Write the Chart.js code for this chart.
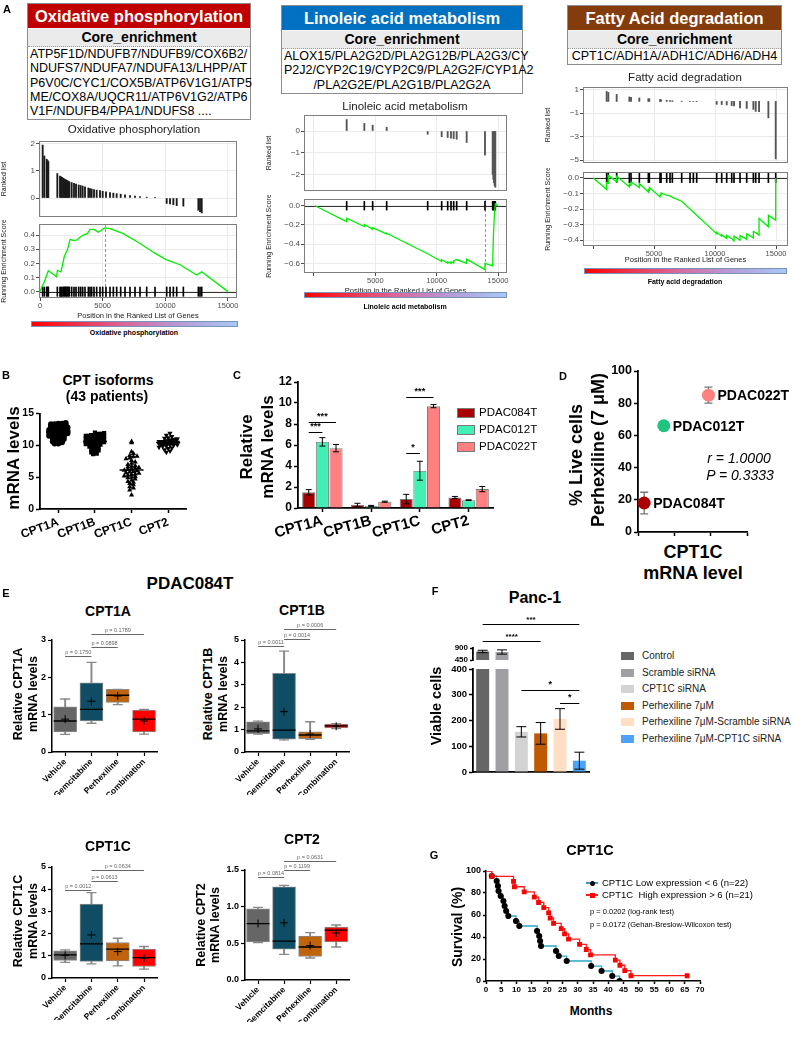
<!DOCTYPE html>
<html lang="en">
<head>
<meta charset="UTF-8">
<meta name="viewport" content="width=device-width, initial-scale=1.0">
<title>CPT1C figure</title>
<style>
  body { margin: 0; background: #fff; }
  #fig { position: relative; width: 794px; height: 1041px; overflow: hidden;
         font-family: 'Liberation Sans', Arial, sans-serif; color: #000; }
  #fig canvas { position: absolute; }
  .t { position: absolute; white-space: nowrap; line-height: 1; }
  .gbox { position: absolute; border: 1px solid #8c8c8c; background: #fff; box-sizing: border-box; }
  .gbox .hd { color: #fff; font-weight: bold; text-align: center; font-size: 16.5px; height: 24px; line-height: 25px; }
  .gbox .core { background: #ebebeb; font-weight: bold; text-align: center; font-size: 14px; height: 17px; line-height: 17px;
                border-top: 1px dotted #fff; border-bottom: 1px dotted #9a9a9a; }
  .gbox .genes { font-size: 12.5px; line-height: 14.3px; padding: 0 2px 1px; }
  .cbar { position: absolute; height: 6px; box-sizing: border-box; border: 1px solid #7b93b8;
          background: linear-gradient(to right, #ff0000, #d9679a 45%, #b69ad6 72%, #a6c9f7); }
  .sw { position: absolute; box-sizing: border-box; }
</style>
</head>
<body>
<div id="fig"></div>
<script src="https://cdn.jsdelivr.net/npm/chart.js"></script>
<script>
// ---------- A: GSEA (gene rank positions / ranked metric / running ES) ----------
const oxHits = [213, 346, 532, 612, 665, 1383, 1596, 1676, 1756, 1862, 1942, 2022, 2102, 2181, 2261, 2341, 2527, 2713, 2873, 3086,
                3246, 3405, 3591, 3857, 3990, 4123, 4310, 4522, 4788, 5002, 5267, 5586, 5852, 6118, 6438, 6784, 7183, 7582, 7981, 8513,
                9178, 10109, 10375, 10641, 10907, 11439, 12637, 12769, 12903];
const oxRank = [1.95, 1.55, 1.43, 1.38, 1.34, 0.9, 0.81, 0.78, 0.76, 0.73, 0.7, 0.68, 0.66, 0.64, 0.62, 0.6, 0.57, 0.54, 0.51, 0.48,
                0.46, 0.44, 0.41, 0.37, 0.35, 0.33, 0.31, 0.29, 0.27, 0.25, 0.23, 0.2, 0.18, 0.16, 0.14, 0.12, 0.09, 0.07, 0.05, 0.03,
                0.01, -0.2, -0.22, -0.25, -0.28, -0.3, -0.45, -0.5, -0.55];
const oxEsPos = [0, 213, 346, 665, 1330, 1383, 1676, 1942, 2200, 2400, 2700, 2950, 3190, 3460, 3780, 3990, 4310, 4655, 5160, 5590,
                 6650, 7980, 9200, 10110, 11170, 12500, 12900, 15000];
const oxEsVal = [0, 0.045, 0.07, 0.148, 0.105, 0.15, 0.14, 0.25, 0.3, 0.37, 0.36, 0.365, 0.385, 0.4, 0.41, 0.44, 0.44, 0.42, 0.45, 0.445,
                 0.41, 0.34, 0.27, 0.224, 0.19, 0.118, 0.14, 0];

const linHits = [2662, 4102, 4781, 5922, 9264, 10405, 10894, 11166, 11383, 11627, 12442, 13936, 14561, 14616, 14670, 14724, 14779];
const linRank = [0.53, 0.35, 0.27, 0.17, -0.15, -0.26, -0.3, -0.33, -0.35, -0.38, -0.53, -1.12, -2.0, -2.23, -2.4, -2.53, -2.6];
const linEsPos = [81, 2662, 2662, 4102, 4102, 4781, 4781, 5922, 5922, 9264, 10405, 10405, 10894, 10894, 11166, 11166, 11383, 11383,
                  11627, 12442, 12442, 13936, 13936, 14561, 14616, 14700, 14779, 15000];
const linEsVal = [0, -0.166, -0.13, -0.217, -0.193, -0.245, -0.228, -0.293, -0.286, -0.5, -0.58, -0.562, -0.597, -0.585, -0.6, -0.583,
                  -0.595, -0.575, -0.56, -0.6, -0.555, -0.665, -0.6, -0.625, -0.33, -0.1, 0.02, 0];

const faHits = [1120, 1257, 1940, 2978, 3115, 3798, 4536, 4617, 5492, 5574, 6038, 6311, 6503, 7268, 7951, 8224, 8497, 10137, 10546,
                10956, 11366, 11557, 12049, 12596, 13142, 13333, 13607, 14372, 14973];
const faRank = [0.85, 0.77, 0.6, 0.38, 0.35, 0.3, 0.23, 0.22, 0.15, 0.14, 0.1, 0.08, 0.06, 0.02, 0.01, -0.01, -0.02, -0.25, -0.27,
                -0.3, -0.35, -0.38, -0.55, -0.6, -0.68, -0.85, -0.87, -1.4, -4.9];
const faEsPos = [27, 1120, 1120, 1257, 1257, 1940, 1940, 2978, 2978, 3115, 3115, 3798, 3798, 4536, 4536, 4617, 4617, 5492, 5492, 5574,
                 5574, 6038, 6311, 6503, 7268, 8497, 10137, 10137, 10546, 10546, 10956, 10956, 11366, 11557, 11557, 12049, 12049, 12596,
                 12596, 13142, 13142, 13333, 13607, 13607, 14372, 14372, 14973, 14973];
const faEsVal = [0, -0.075, -0.03, -0.035, 0.017, -0.026, 0.01, -0.058, -0.04, -0.045, -0.026, -0.062, -0.036, -0.09, -0.075, -0.078,
                 -0.062, -0.122, -0.11, -0.112, -0.096, -0.11, -0.115, -0.125, -0.15, -0.24, -0.36, -0.35, -0.375, -0.365, -0.39, -0.37,
                 -0.39, -0.405, -0.375, -0.4, -0.37, -0.395, -0.36, -0.385, -0.345, -0.352, -0.368, -0.261, -0.314, -0.24, -0.272, 0];

// ---------- B: CPT isoforms, 43 patients ----------
const bGenes = ['CPT1A', 'CPT1B', 'CPT1C', 'CPT2'];
const bCPT1A = [13.5, 13.4, 13.4, 13.3, 13.3, 13.2, 13.1, 13.0, 13.0, 12.9, 12.8, 12.8, 12.7, 12.6, 12.6, 12.5, 12.5, 12.4, 12.3, 12.3,
                12.2, 12.2, 12.1, 12.0, 12.0, 11.9, 11.8, 11.8, 11.7, 11.6, 11.5, 11.5, 11.4, 11.3, 11.2, 11.1, 11.0, 10.9, 10.8, 10.6,
                10.5, 10.3, 10.3];
const bCPT1B = [12.0, 11.9, 11.8, 11.8, 11.7, 11.6, 11.6, 11.5, 11.5, 11.4, 11.3, 11.3, 11.2, 11.2, 11.1, 11.1, 11.0, 11.0, 10.9, 10.9,
                10.8, 10.8, 10.7, 10.7, 10.6, 10.5, 10.5, 10.4, 10.4, 10.3, 10.2, 10.1, 10.0, 9.9, 9.8, 9.6, 9.5, 9.3, 9.2, 9.0,
                8.9, 8.7, 8.6];
const bCPT1C = [10.6, 10.4, 9.0, 8.7, 8.4, 8.3, 8.2, 8.0, 7.9, 7.6, 7.4, 7.2, 7.0, 6.8, 6.7, 6.6, 6.5, 6.4, 6.3, 6.2,
                6.1, 6.0, 5.9, 5.8, 5.7, 5.6, 5.5, 5.4, 5.3, 5.2, 5.1, 5.0, 4.9, 4.7, 4.5, 4.3, 4.2, 4.0, 3.8, 3.5,
                3.3, 3.0, 2.2];
const bCPT2 = [11.9, 11.6, 11.4, 11.2, 11.1, 11.0, 11.0, 10.9, 10.9, 10.8, 10.8, 10.8, 10.7, 10.7, 10.7, 10.6, 10.6, 10.6, 10.6, 10.6,
               10.5, 10.5, 10.5, 10.5, 10.4, 10.4, 10.4, 10.3, 10.3, 10.3, 10.2, 10.2, 10.1, 10.0, 10.0, 9.9, 9.8, 9.7, 9.6, 9.5,
               9.3, 9.1, 8.9];

// ---------- C: relative mRNA levels per PDAC line ----------
const cGenes = ['CPT1A', 'CPT1B', 'CPT1C', 'CPT2'];
const cLines = ['PDAC084T', 'PDAC012T', 'PDAC022T'];
const c084 = [1.5, 0.3, 0.85, 1.0];
const c012 = [6.3, 0.2, 3.55, 0.75];
const c022 = [5.7, 0.6, 9.7, 1.8];
const c084Err = [0.25, 0.15, 0.45, 0.1];
const c012Err = [0.4, 0.05, 0.9, 0.03];
const c022Err = [0.35, 0.05, 0.15, 0.25];
const cSig = [{ g: 0, a: 0, b: 1, y: 7.2, t: '***' }, { g: 0, a: 0, b: 2, y: 8.2, t: '***' },
              { g: 2, a: 0, b: 1, y: 5.2, t: '*' }, { g: 2, a: 0, b: 2, y: 10.6, t: '***' }];

// ---------- D: live cells vs CPT1C ----------
const dNames = ['PDAC084T', 'PDAC012T', 'PDAC022T'];
const dX = [0.85, 3.55, 9.7];
const dY = [18, 66, 85];
const dErr = [6.7, 0, 5];

// ---------- E: PDAC084T box plots ----------
const eGroups = ['Vehicle', 'Gemcitabine', 'Perhexiline', 'Combination'];
// [min, q1, median, q3, max, mean]
const eCPT1A = [[0.47, 0.77, 1.27, 0.48], [0.54, 0.83, 1.33, 0.54], [0.83, 1.14, 1.52, 0.88], [1.21, 1.85, 1.68, 1.12], [1.42, 2.4, 1.68, 1.14], [0.88, 1.36, 1.5, 0.83]];
const eCPT1B = [[0.8, 0.54, 0.57, 1.05], [0.82, 0.57, 0.6, 1.08], [0.94, 0.98, 0.76, 1.17], [1.35, 3.51, 0.9, 1.25], [1.38, 4.5, 1.35, 1.27], [1.03, 1.8, 0.8, 1.15]];
const eCPT1C = [[0.7, 0.64, 0.55, 0.4], [0.79, 0.75, 0.77, 0.52], [1.04, 1.54, 1.3, 0.92], [1.22, 3.33, 1.6, 1.3], [1.27, 3.85, 1.79, 1.42], [1.02, 1.94, 1.19, 0.9]];
const eCPT2 = [[0.51, 0.35, 0.3, 0.45], [0.52, 0.42, 0.32, 0.52], [0.77, 0.53, 0.45, 0.68], [0.97, 1.27, 0.6, 0.72], [0.99, 1.29, 0.645, 0.75], [0.77, 0.78, 0.47, 0.64]];
const eP1A = [[0, 1, 2.58, 'p = 0.1750'], [1, 2, 2.82, 'p = 0.0898'], [1, 3, 3.16, 'p = 0.1789']];
const eP1B = [[0, 1, 4.75, 'p = 0.0011'], [1, 2, 5.04, 'p = 0.0014'], [1, 3, 5.49, 'p = 0.0006']];
const eP1C = [[0, 1, 3.98, 'p = 0.0012'], [1, 2, 4.37, 'p = 0.0613'], [1, 3, 4.85, 'p = 0.0634']];
const eP2 = [[0, 1, 1.40, 'p = 0.0814'], [1, 2, 1.50, 'p = 0.1199'], [1, 3, 1.62, 'p = 0.0631']];

// ---------- F: Panc-1 viable cells ----------
const fGroups = ['Control', 'Scramble siRNA', 'CPT1C siRNA', 'Perhexiline 7μM', 'Perhexiline 7μM-Scramble siRNA', 'Perhexiline 7μM-CPT1C siRNA'];
const fVals = [770, 750, 156, 150, 206, 44];
const fErr = [45, 80, 20, 42, 40, 33];
const fSigTop = [{ a: 0, b: 5, y: 1800, t: '***' }, { a: 0, b: 3, y: 1162, t: '****' }];
const fSigLow = [{ a: 2, b: 5, y: 318, t: '*' }, { a: 4, b: 5, y: 268, t: '*' }];

// ---------- G: Kaplan-Meier CPT1C ----------
const gLowT = [0, 1.9, 3.5, 3.9, 4.1, 4.8, 5.7, 6.1, 6.6, 7.3, 9.8, 10.9, 16.7, 17.4, 17.7, 18.0, 22.9, 23.8, 26.4, 34.4, 37.8, 41.3, 43.7];
const gLowS = [100, 95.5, 90.9, 86.4, 81.8, 77.3, 72.7, 68.2, 63.6, 59.1, 54.5, 50.0, 45.5, 40.9, 36.4, 31.8, 27.3, 22.7, 18.2, 13.6, 9.1, 4.5, 0];
const gHighT = [0, 1.9, 9.0, 9.3, 12.5, 15.8, 17.2, 18.9, 20.5, 21.0, 22.1, 24.6, 25.7, 27.0, 30.6, 32.8, 34.2, 42.3, 43.8, 45.4, 47.4, 65.8];
const gHighS = [100, 95.2, 90.5, 85.7, 81.0, 76.2, 71.4, 66.7, 61.9, 57.1, 52.4, 47.6, 42.9, 38.1, 33.3, 28.6, 23.8, 19.0, 14.3, 9.5, 4.8, 4.8];

// ================= helpers =================
const fig = document.getElementById('fig');
Chart.defaults.font.family = "'Liberation Sans', Arial, sans-serif";
Chart.defaults.color = '#000';
Chart.defaults.animation = false;
Chart.defaults.events = [];
Chart.defaults.plugins.legend.display = false;
Chart.defaults.plugins.tooltip.enabled = false;

function mk(box, cfg) {
  const c = document.createElement('canvas');
  c.width = box[2]; c.height = box[3];
  c.style.left = box[0] + 'px'; c.style.top = box[1] + 'px';
  fig.appendChild(c);
  cfg.options = Object.assign({ responsive: false, maintainAspectRatio: false }, cfg.options);
  return new Chart(c, cfg);
}
function txt(s, x, y, css, rot, left) {
  const d = document.createElement('div');
  d.className = 't';
  d.textContent = s;
  d.style.cssText = `left:${x}px;top:${y}px;transform:translate(${left ? '0' : '-50%'},-50%)${rot ? ' rotate(' + rot + 'deg)' : ''};` + (css || '');
  fig.appendChild(d);
}
function merge(a, b) {
  const out = Object.assign({}, a);
  for (const k in b) {
    if (b[k] && typeof b[k] === 'object' && !Array.isArray(b[k]) && a[k] && typeof a[k] === 'object') out[k] = merge(a[k], b[k]);
    else out[k] = b[k];
  }
  return out;
}
const fixW = w => s => { s.width = w; s.paddingTop = 0; s.paddingBottom = 0; };
const fixH = h => s => { s.height = h; s.paddingLeft = 0; s.paddingRight = 0; };
const setTicks = list => s => { s.ticks = list.map(v => ({ value: v })); };
const minus = v => (v < 0 ? '\u2212' : '') + Math.abs(v);
const mean = a => a.reduce((s, v) => s + v, 0) / a.length;

// GraphPad-like axis
const gpAx = {
  grid: { display: true, drawOnChartArea: false, drawTicks: true, tickLength: 4, tickWidth: 1.5, tickColor: '#000' },
  border: { display: true, color: '#000', width: 1.8 },
  ticks: { color: '#000', font: { size: 10, weight: 'bold' }, padding: 2, autoSkip: false }
};

const framePlugin = color => ({
  id: 'frame',
  afterDatasetsDraw(ch) {
    const a = ch.chartArea, ctx = ch.ctx;
    ctx.save(); ctx.strokeStyle = color; ctx.lineWidth = 1;
    ctx.strokeRect(Math.round(a.left) + 0.5, Math.round(a.top) + 0.5, Math.round(a.right - a.left) - 1, Math.round(a.bottom - a.top) - 1);
    ctx.restore();
  }
});

function errPlugin(errs, capW, color, lw, before) {
  const draw = ch => {
    const ctx = ch.ctx, ys = ch.scales.y;
    ctx.save(); ctx.strokeStyle = color; ctx.lineWidth = lw;
    errs.forEach((arr, di) => {
      if (!arr) return;
      ch.getDatasetMeta(di).data.forEach((el, j) => {
        let v = ch.data.datasets[di].data[j];
        const e = arr[j];
        if (v == null || !e) return;
        if (typeof v === 'object') v = v.y;
        if (v > ys.max || v < ys.min) return;
        const x = el.x, y1 = ys.getPixelForValue(v + e), y2 = ys.getPixelForValue(v - e);
        ctx.beginPath();
        ctx.moveTo(x, y1); ctx.lineTo(x, y2);
        ctx.moveTo(x - capW, y1); ctx.lineTo(x + capW, y1);
        ctx.moveTo(x - capW, y2); ctx.lineTo(x + capW, y2);
        ctx.stroke();
      });
    });
    ctx.restore();
  };
  return before ? { id: 'err', beforeDatasetsDraw: draw } : { id: 'err', afterDatasetsDraw: draw };
}

function bracketPlugin(list, xOf, font, color) {
  return {
    id: 'brk',
    afterDatasetsDraw(ch) {
      const ctx = ch.ctx, ys = ch.scales.y;
      ctx.save();
      ctx.strokeStyle = color; ctx.fillStyle = color; ctx.lineWidth = 1;
      ctx.font = font; ctx.textAlign = 'center'; ctx.textBaseline = 'bottom';
      list.forEach(b => {
        const x1 = xOf(ch, b, b.a), x2 = xOf(ch, b, b.b);
        const y = Math.round(ys.getPixelForValue(b.y)) + 0.5;
        ctx.beginPath(); ctx.moveTo(x1, y); ctx.lineTo(x2, y); ctx.stroke();
        ctx.fillText(b.t, (x1 + x2) / 2, y - 1);
      });
      ctx.restore();
    }
  };
}

// ================= A =================
function geneBox(x, y, w, title, color, lines, align) {
  const b = document.createElement('div');
  b.className = 'gbox';
  b.style.cssText = `left:${x}px;top:${y}px;width:${w}px`;
  b.innerHTML = `<div class="hd" style="background:${color}">${title}</div><div class="core">Core_enrichment</div>` +
    `<div class="genes" style="text-align:${align}">${lines.join('<br>')}</div>`;
  fig.appendChild(b);
}
geneBox(27, 3, 224, 'Oxidative phosphorylation', '#c00000',
  ['ATP5F1D/NDUFB7/NDUFB9/COX6B2/', 'NDUFS7/NDUFA7/NDUFA13/LHPP/AT', 'P6V0C/CYC1/COX5B/ATP6V1G1/ATP5',
   'ME/COX8A/UQCR11/ATP6V1G2/ATP6', 'V1F/NDUFB4/PPA1/NDUFS8 ....'], 'left');
geneBox(281, 5, 242, 'Linoleic acid metabolism', '#0070c0',
  ['ALOX15/PLA2G2D/PLA2G12B/PLA2G3/CY', 'P2J2/CYP2C19/CYP2C9/PLA2G2F/CYP1A2', '/PLA2G2E/PLA2G1B/PLA2G2A'], 'center');
geneBox(567, 5, 215, 'Fatty Acid degradation', '#843c0c', ['CPT1C/ADH1A/ADH1C/ADH6/ADH4'], 'center');

const gsea = [
  { name: 'Oxidative phosphorylation', hits: oxHits, rank: oxRank, esPos: oxEsPos, esVal: oxEsVal,
    r: [0, 134, 242, 83], e: [0, 220, 242, 100], xH: 22, xMin: -80, xMax: 15720, rMin: -0.7, rMax: 2.1, rTicks: [0, 1, 2],
    eMin: -0.045, eMax: 0.478, eTicks: [0, 0.1, 0.2, 0.3, 0.4], xLabels: [0, 5000, 10000, 15000], tick: 0.033, peak: true, bar: '#1a1a1a',
    title: [134, 130], cbar: [31, 321, 207], cbarLab: [134, 332] },
  { name: 'Linoleic acid metabolism', hits: linHits, rank: linRank, esPos: linEsPos, esVal: linEsVal,
    r: [265, 108, 247, 83], e: [265, 195, 247, 100], xH: 22, xMin: -815, xMax: 15730, rMin: -2.77, rMax: 0.74, rTicks: [-2, -1, 0],
    eMin: -0.70, eMax: 0.07, eTicks: [-0.6, -0.4, -0.2, 0], xLabels: [5000, 10000, 15000], tick: 0.045, peak: true, bar: '#555',
    title: [405, 107], cbar: [304, 292, 203], cbarLab: [405, 306] },
  { name: 'Fatty acid degradation', hits: faHits, rank: faRank, esPos: faEsPos, esVal: faEsVal,
    r: [544, 80, 249, 83], e: [544, 168, 249, 96], xH: 18, xMin: -820, xMax: 15980, rMin: -5.25, rMax: 1.23, rTicks: [-5, -4, -3, -2, -1, 0, 1],
    eMin: -0.438, eMax: 0.038, eTicks: [-0.4, -0.3, -0.2, -0.1, 0], xLabels: [5000, 10000, 15000], tick: 0.03, peak: false, bar: '#555',
    title: [685, 78], cbar: [584, 268, 203], cbarLab: [685, 281] }
];

gsea.forEach(g => {
  const gridX = [0, 5000, 10000, 15000];
  const yAxis = (min, max, ticks, fmt, title, w) => ({
    min, max, afterBuildTicks: setTicks(ticks),
    ticks: { font: { size: 8 }, color: '#4d4d4d', padding: 1, callback: fmt },
    grid: { color: '#ebebeb', tickLength: 3, tickColor: '#4d4d4d' }, border: { display: false },
    title: { display: true, text: title, font: { size: 7 }, color: '#1a1a1a', padding: 0 },
    afterFit: fixW(w)
  });
  mk(g.r, {
    type: 'bar',
    data: { datasets: [{ data: g.hits.map((p, i) => ({ x: p, y: g.rank[i] })), backgroundColor: g.bar, barThickness: 1.2 }] },
    options: {
      layout: { padding: { top: 7, right: 5 } },
      scales: {
        x: { type: 'linear', offset: false, min: g.xMin, max: g.xMax, afterBuildTicks: setTicks(gridX), ticks: { display: false },
             grid: { color: '#ebebeb', drawTicks: false, offset: false }, border: { display: false }, afterFit: fixH(0) },
        y: yAxis(g.rMin, g.rMax, g.rTicks, v => minus(v), 'Ranked list', 39)
      }
    },
    plugins: [framePlugin('#7f7f7f')]
  });
  const peakIdx = g.esVal.reduce((bi, v, i, a) => Math.abs(v) > Math.abs(a[bi]) ? i : bi, 0);
  mk(g.e, {
    type: 'line',
    data: { datasets: [
      { data: g.esPos.map((p, i) => ({ x: p, y: g.esVal[i] })), borderColor: '#00ee00', borderWidth: 1.3, pointRadius: 0, tension: 0, order: 1 },
      { type: 'bar', data: g.hits.map(p => ({ x: p, y: [-g.tick, g.tick] })), backgroundColor: '#000', barThickness: 1, order: 2 }
    ] },
    options: {
      layout: { padding: { top: 4, right: 5 } },
      scales: {
        x: { type: 'linear', offset: false, min: g.xMin, max: g.xMax, afterBuildTicks: setTicks(gridX),
             ticks: { font: { size: 7.5 }, color: '#4d4d4d', padding: 0, maxRotation: 0, callback: v => g.xLabels.includes(v) ? String(v) : '' },
             grid: { color: '#ebebeb', tickLength: 3, tickColor: '#4d4d4d', offset: false }, border: { display: false },
             title: { display: true, text: 'Position in the Ranked List of Genes', font: { size: 7.5 }, color: '#1a1a1a', padding: 0 },
             afterFit: fixH(g.xH) },
        y: yAxis(g.eMin, g.eMax, g.eTicks, v => minus(Number(v.toFixed(1))).replace(/^(\u2212?)(\d)$/, '$1$2.0'), 'Running Enrichment Score', 39)
      }
    },
    plugins: [framePlugin('#7f7f7f'), {
      id: 'zero',
      beforeDatasetsDraw(ch) {
        const ctx = ch.ctx, a = ch.chartArea, y = Math.round(ch.scales.y.getPixelForValue(0)) + 0.5;
        ctx.save(); ctx.strokeStyle = '#333'; ctx.lineWidth = 1;
        ctx.beginPath(); ctx.moveTo(a.left, y); ctx.lineTo(a.right, y); ctx.stroke();
        if (g.peak) {
          const x = Math.round(ch.scales.x.getPixelForValue(g.esPos[peakIdx])) + 0.5;
          ctx.strokeStyle = '#ff6f6f'; ctx.setLineDash([3, 2]);
          ctx.beginPath(); ctx.moveTo(x, a.top); ctx.lineTo(x, a.bottom); ctx.stroke();
        }
        ctx.restore();
      }
    }]
  });
  txt(g.name, g.title[0], g.title[1], 'font-size:11.5px;color:#1a1a1a');
  const cb = document.createElement('div');
  cb.className = 'cbar';
  cb.style.cssText = `left:${g.cbar[0]}px;top:${g.cbar[1]}px;width:${g.cbar[2]}px`;
  fig.appendChild(cb);
  txt(g.name, g.cbarLab[0], g.cbarLab[1], 'font-size:7px;font-weight:bold');
});

// ================= B =================
function swarm(vals, center, binH, dx, maxHalf) {
  const bins = {};
  vals.slice().sort((a, b) => a - b).forEach(v => { const k = Math.round(v / binH); (bins[k] = bins[k] || []).push(v); });
  const pts = [];
  Object.values(bins).forEach(arr => {
    const step = arr.length > 1 ? Math.min(dx, 2 * maxHalf / (arr.length - 1)) : 0;
    arr.forEach((v, i) => pts.push({ x: center + (i - (arr.length - 1) / 2) * step, y: v }));
  });
  return pts;
}
const bSets = [bCPT1A, bCPT1B, bCPT1C, bCPT2];
const bStyles = ['circle', 'rect', 'triangle', 'triangle'];
mk([0, 400, 200, 150], {
  type: 'scatter',
  data: { datasets: bSets.map((vals, i) => ({
    data: swarm(vals, i + 1, 0.45, 0.1, 0.25), pointStyle: bStyles[i], pointRotation: i === 3 ? 180 : 0,
    pointRadius: 3, pointBackgroundColor: '#000', pointBorderColor: '#000', pointBorderWidth: 0, order: 1
  })).concat([{ data: bSets.map((v, i) => ({ x: i + 1, y: mean(v) })), pointStyle: 'line', pointRadius: 12,
                pointBorderColor: '#000', pointBorderWidth: 1.5, order: 0 }]) },
  options: {
    layout: { padding: { top: 7, right: 9 } },
    scales: {
      x: merge(gpAx, { type: 'linear', min: 0.5, max: 4.5, afterBuildTicks: setTicks([1, 2, 3, 4]),
                       ticks: { callback: v => bGenes[v - 1], minRotation: 20, maxRotation: 20, font: { size: 12 } }, afterFit: fixH(41) }),
      y: merge(gpAx, { min: 0, max: 15, ticks: { stepSize: 5, font: { size: 10.5 } }, afterFit: fixW(40) })
    }
  }
});
txt('CPT isoforms', 108, 380, 'font-size:14px;font-weight:bold');
txt('(43 patients)', 107, 396, 'font-size:14px;font-weight:bold');
txt('mRNA levels', 13, 458, 'font-size:17px;font-weight:bold', -90);

// ================= C =================
const cColors = ['#a80000', '#42f0b4', '#ff8080'];
mk([240, 375, 260, 175], {
  type: 'bar',
  data: { labels: cGenes, datasets: [c084, c012, c022].map((d, i) => ({
    label: cLines[i], data: d, backgroundColor: cColors[i], borderColor: '#7a7a7a', borderWidth: 1,
    categoryPercentage: 0.84, barPercentage: 0.96 })) },
  options: {
    layout: { padding: { top: 7, right: 7 } },
    scales: {
      x: merge(gpAx, { ticks: { minRotation: 15, maxRotation: 15, font: { size: 15 }, padding: 0 }, grid: { offset: false }, afterFit: fixH(42) }),
      y: merge(gpAx, { min: 0, max: 12, ticks: { stepSize: 2, font: { size: 12 } }, afterFit: fixW(58) })
    }
  },
  plugins: [errPlugin([c084Err, c012Err, c022Err], 3, '#000', 1),
            bracketPlugin(cSig, (ch, b, i) => ch.getDatasetMeta(i).data[b.g].x, 'bold 9px "Liberation Sans", Arial', '#000')]
});
txt('Relative', 246, 447, 'font-size:17px;font-weight:bold', -90);
txt('mRNA levels', 267, 447, 'font-size:17px;font-weight:bold', -90);
cLines.forEach((n, i) => {
  const y = 413 + i * 17;
  const s = document.createElement('div');
  s.className = 'sw';
  s.style.cssText = `left:457px;top:${y - 5}px;width:18px;height:10px;background:${cColors[i]};border:1px solid #7a7a7a`;
  fig.appendChild(s);
  txt(n, 479, y, 'font-size:11.5px', 0, true);
});

// ================= D =================
const dColors = ['#a80000', '#1fc47f', '#ff8080'];
mk([600, 362, 194, 178], {
  type: 'scatter',
  data: { datasets: [{ data: dX.map((x, i) => ({ x, y: dY[i] })), pointRadius: 6.5,
                       pointBackgroundColor: dColors, pointBorderColor: dColors, pointBorderWidth: 0 }] },
  options: {
    layout: { padding: { top: 9, right: 47 } },
    scales: {
      x: merge(gpAx, { min: 0, max: 15, ticks: { display: false, stepSize: 5 }, afterFit: fixH(8) }),
      y: merge(gpAx, { min: 0, max: 100, ticks: { stepSize: 20, font: { size: 12.5 } }, afterFit: fixW(38) })
    }
  },
  plugins: [errPlugin([dErr], 4, '#777', 1.3, true), {
    id: 'names',
    afterDatasetsDraw(ch) {
      const ctx = ch.ctx;
      ctx.save(); ctx.font = 'bold 14px "Liberation Sans", Arial'; ctx.fillStyle = '#000'; ctx.textBaseline = 'middle';
      ch.getDatasetMeta(0).data.forEach((el, i) => ctx.fillText(dNames[i], el.x + 9, el.y + 1));
      ctx.restore();
    }
  }]
});
txt('% Live cells', 576, 455, 'font-size:18px;font-weight:bold', -90);
txt('Perhexiline (7 μM)', 598, 450, 'font-size:18px;font-weight:bold', -90);
txt('CPT1C', 693, 552, 'font-size:18px;font-weight:bold');
txt('mRNA level', 693, 573, 'font-size:18px;font-weight:bold');
txt('r = 1.0000', 739, 458, 'font-size:14px;font-style:italic');
txt('P = 0.3333', 740, 475, 'font-size:14px;font-style:italic');

// ================= E =================
const eColors = ['#666666', '#0e4d64', '#c0630a', '#ff0000'];
function boxChart(box, padTop, xH, st, pv, yMax, step, fmt) {
  const [mn, q1, md, q3, mx, mu] = st;
  const cap = data => ({ type: 'line', data, showLine: false, pointStyle: 'line', pointRadius: 5,
                         pointBorderColor: '#8a8a8a', pointBorderWidth: 1.3, order: 3 });
  mk(box, {
    type: 'bar',
    data: { labels: eGroups, datasets: [
      { type: 'line', data: mu, showLine: false, pointStyle: 'cross', pointRadius: 4, pointBorderColor: '#000', pointBorderWidth: 1, order: 1 },
      { type: 'line', data: md, showLine: false, pointStyle: 'line', pointRadius: 11.5, pointBorderColor: '#000', pointBorderWidth: 1.3, order: 2 },
      cap(mn), cap(mx),
      { data: q1.map((v, i) => [v, q3[i]]), backgroundColor: eColors, borderColor: '#8a8a8a', borderWidth: 1,
        borderSkipped: false, barThickness: 23, grouped: false, order: 4 },
      { data: mn.map((v, i) => [v, mx[i]]), backgroundColor: '#8a8a8a', barThickness: 1.3, grouped: false, order: 5 }
    ] },
    options: {
      layout: { padding: { top: padTop, right: 5 } },
      scales: {
        x: merge(gpAx, { ticks: { minRotation: 45, maxRotation: 45, font: { size: 8.5 }, padding: 1 }, grid: { offset: false, tickWidth: 1.2 },
                         border: { width: 1.5 }, afterFit: fixH(xH) }),
        y: merge(gpAx, { min: 0, max: yMax, ticks: { stepSize: step, font: { size: 9 }, callback: fmt }, grid: { tickWidth: 1.2 },
                         border: { width: 1.5 }, afterFit: fixW(24) })
      }
    },
    plugins: [bracketPlugin(pv.map(p => ({ a: p[0], b: p[1], y: p[2], t: p[3] })), (ch, b, i) => ch.scales.x.getPixelForValue(i),
                            '5.5px "Liberation Sans", Arial', '#666')]
  });
}
boxChart([28, 620, 142, 175], 20, 43, eCPT1A, eP1A, 3, 1, v => v);
boxChart([221, 620, 141, 175], 20, 43, eCPT1B, eP1B, 5, 1, v => v);
boxChart([28, 847, 142, 173], 20, 42, eCPT1C, eP1C, 5, 1, v => v);
boxChart([221, 847, 141, 175], 23, 42, eCPT2, eP2, 1.5, 0.5, v => Number(v).toFixed(1));
txt('PDAC084T', 190, 583, 'font-size:17px;font-weight:bold');
txt('CPT1A', 108, 611, 'font-size:14px;font-weight:bold');
txt('CPT1B', 302, 610, 'font-size:14px;font-weight:bold');
txt('CPT1C', 108, 846, 'font-size:14px;font-weight:bold');
txt('CPT2', 302, 839, 'font-size:14px;font-weight:bold');
[['Relative CPT1A', 18, 33, 694], ['Relative CPT1B', 208, 223, 694], ['Relative CPT1C', 18, 33, 921], ['Relative CPT2', 201, 215, 925]]
  .forEach(r => {
    txt(r[0], r[1], r[3], 'font-size:12.5px;font-weight:bold', -90);
    txt('mRNA levels', r[2], r[3], 'font-size:12.5px;font-weight:bold', -90);
  });

// ================= F =================
const fColors = ['#666666', '#a0a0a4', '#d3d3d3', '#c05a00', '#ffdfc4', '#4da3f7'];
const fX = (top) => merge(gpAx, { display: !top, ticks: { display: false }, grid: { display: false }, afterFit: fixH(top ? 0 : 6) });
const fBarSet = vals => [{ data: vals, backgroundColor: fColors, categoryPercentage: 0.67, barPercentage: 1, clip: 0 }];
mk([430, 612, 170, 52], {
  type: 'bar',
  data: { labels: fGroups, datasets: fBarSet(fVals.map((v, i) => i < 2 ? v : null)) },
  options: {
    layout: { padding: { top: 36, right: 11, bottom: 4 } },
    scales: {
      x: fX(true),
      y: merge(gpAx, { min: 450, max: 900, afterBuildTicks: setTicks([450, 900]), ticks: { font: { size: 8 } }, grid: { tickLength: 3 }, afterFit: fixW(43) })
    }
  },
  plugins: [errPlugin([fErr], 5, '#000', 1), bracketPlugin(fSigTop, (ch, b, i) => ch.getDatasetMeta(0).data[i].x, 'bold 8px "Liberation Sans", Arial', '#000')]
});
mk([430, 664, 170, 114], {
  type: 'bar',
  data: { labels: fGroups, datasets: fBarSet(fVals) },
  options: {
    layout: { padding: { top: 5, right: 11 } },
    scales: {
      x: fX(false),
      y: merge(gpAx, { min: 0, max: 400, ticks: { stepSize: 100, font: { size: 9.5 } }, afterFit: fixW(43) })
    }
  },
  plugins: [errPlugin([fErr], 5, '#000', 1), bracketPlugin(fSigLow, (ch, b, i) => ch.getDatasetMeta(0).data[i].x, 'bold 9px "Liberation Sans", Arial', '#000')]
});
txt('Panc-1', 535, 598, 'font-size:16px;font-weight:bold');
txt('Viable cells', 436, 706, 'font-size:14.5px;font-weight:bold', -90);
fGroups.forEach((n, i) => {
  const y = 656 + i * 16.6;
  const s = document.createElement('div');
  s.className = 'sw';
  s.style.cssText = `left:621px;top:${y - 4}px;width:13px;height:8px;background:${fColors[i]}`;
  fig.appendChild(s);
  txt(n, 642, y, 'font-size:10px;color:#222', 0, true);
});

// ================= G =================
mk([444, 862, 264, 133], {
  type: 'line',
  data: { datasets: [
    { data: gHighT.map((t, i) => ({ x: t, y: gHighS[i] })), stepped: true, borderColor: '#ff1a1a', borderWidth: 1.3,
      pointStyle: 'rect', pointRadius: c => c.dataIndex ? 2.5 : 0, pointBackgroundColor: '#ff0000', pointBorderColor: '#ff0000', order: 0 },
    { data: gLowT.map((t, i) => ({ x: t, y: gLowS[i] })), stepped: true, borderColor: '#2aa6c4', borderWidth: 1.3,
      pointStyle: 'circle', pointRadius: c => c.dataIndex ? 2.4 : 0, pointBackgroundColor: '#000', pointBorderColor: '#000', order: 1 }
  ] },
  options: {
    layout: { padding: { top: 9, right: 8 } },
    scales: {
      x: merge(gpAx, { type: 'linear', min: 0, max: 70, ticks: { stepSize: 5, maxRotation: 0, font: { size: 8 }, padding: 1 },
                       grid: { tickLength: 3 }, border: { width: 1.5 }, afterFit: fixH(14) }),
      y: merge(gpAx, { min: 0, max: 100, ticks: { stepSize: 20, font: { size: 9 } }, grid: { tickLength: 3 }, border: { width: 1.5 }, afterFit: fixW(42) })
    }
  }
});
txt('CPT1C', 590, 850, 'font-size:14.5px;font-weight:bold');
txt('Survival (%)', 457, 927, 'font-size:14px;font-weight:bold', -90);
txt('Months', 591, 1011, 'font-size:12px;font-weight:bold');
[['CPT1C Low expression < 6 (n=22)', '#2aa6c4', '#000', '50%', 883], ['CPT1C  High expression > 6 (n=21)', '#ff1a1a', '#ff0000', '0', 895]]
  .forEach(r => {
    const l = document.createElement('div');
    l.className = 'sw';
    l.style.cssText = `left:586px;top:${r[4] - 0.6}px;width:12px;height:1.3px;background:${r[1]}`;
    fig.appendChild(l);
    const m = document.createElement('div');
    m.className = 'sw';
    m.style.cssText = `left:589.5px;top:${r[4] - 2.5}px;width:5px;height:5px;background:${r[2]};border-radius:${r[3]}`;
    fig.appendChild(m);
    txt(r[0], 602, r[4], 'font-size:9.5px;white-space:pre', 0, true);
  });
txt('p = 0.0202 (log-rank test)', 590, 912, 'font-size:7.5px', 0, true);
txt('p = 0.0172 (Gehan-Breslow-Wilcoxon test)', 590, 925, 'font-size:7.5px', 0, true);

// ================= panel letters =================
[['A', 7, 9], ['B', 6, 375], ['C', 237, 375], ['D', 563, 376], ['E', 6, 593], ['F', 435, 591], ['G', 434, 855]]
  .forEach(l => txt(l[0], l[1], l[2], 'font-size:11px;font-weight:bold'));
</script>
</body>
</html>
